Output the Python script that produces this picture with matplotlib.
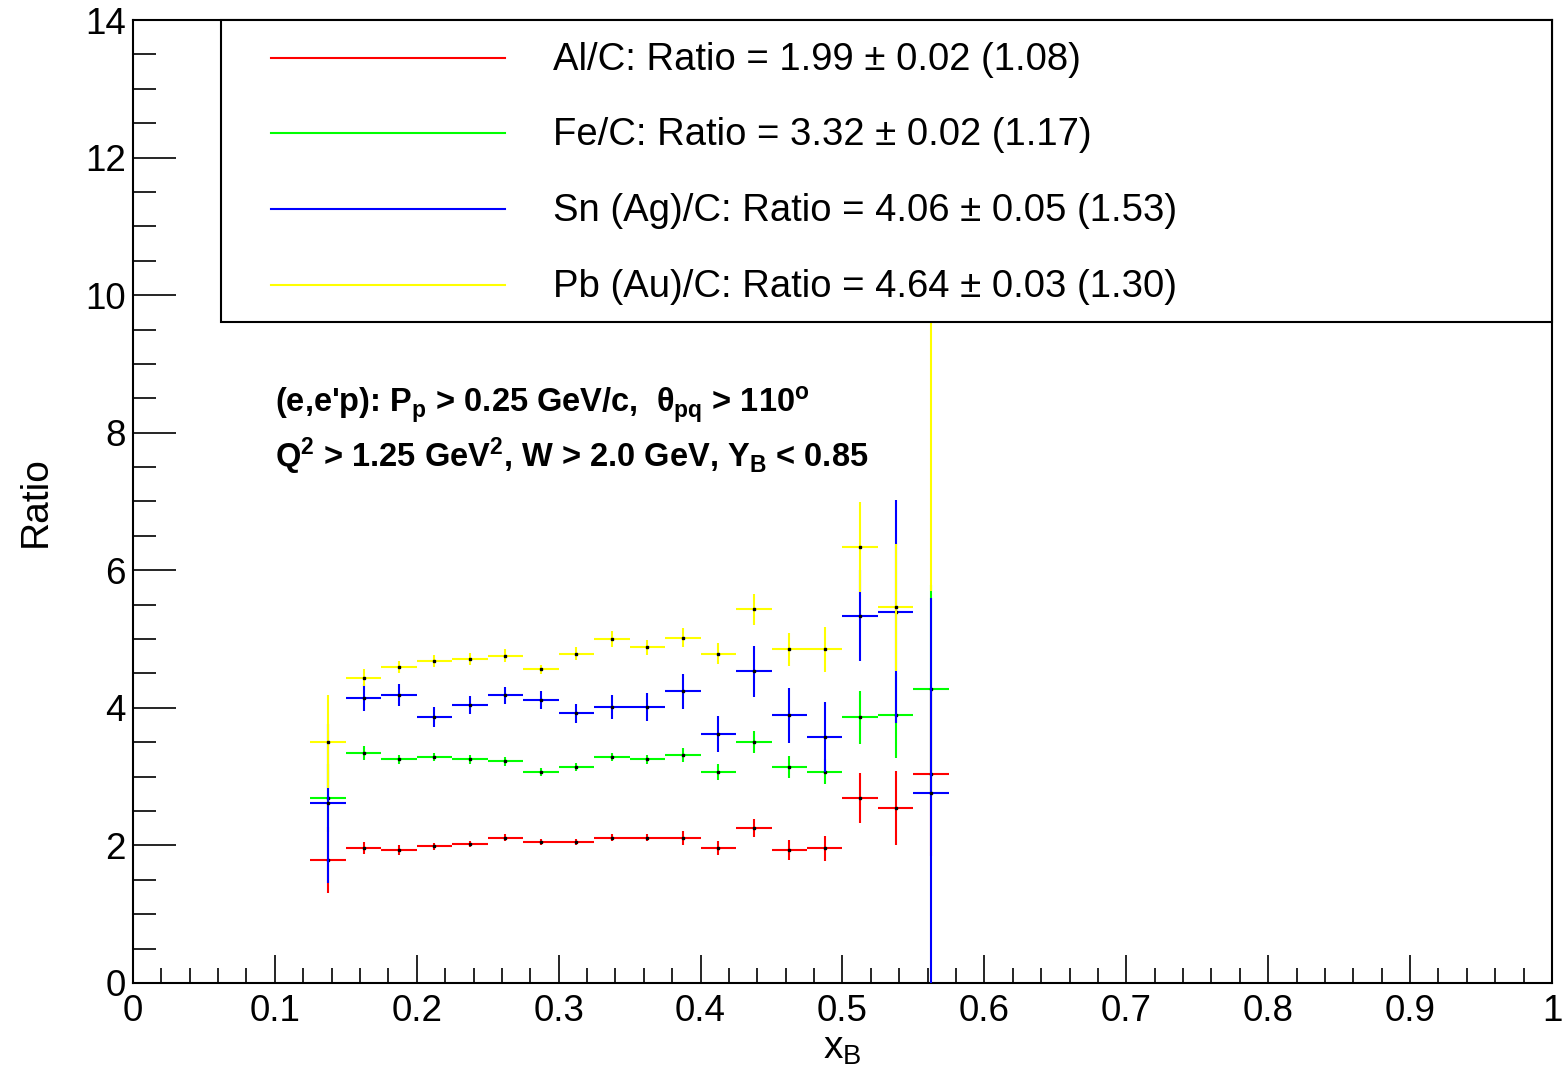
import numpy as np
import matplotlib.pyplot as plt
from matplotlib.patches import Rectangle
from matplotlib.ticker import MultipleLocator, FuncFormatter

plt.rcParams['font.family'] = ['Liberation Sans', 'DejaVu Sans']
plt.rcParams['mathtext.fontset'] = 'custom'
plt.rcParams['mathtext.rm'] = 'Liberation Sans'
plt.rcParams['mathtext.it'] = 'Liberation Sans'
plt.rcParams['mathtext.bf'] = 'Liberation Sans:bold'

# bin centres in x_B (bin width 0.025)
xb = [0.1375, 0.1625, 0.1875, 0.2125, 0.2375, 0.2625, 0.2875, 0.3125, 0.3375,
      0.3625, 0.3875, 0.4125, 0.4375, 0.4625, 0.4875, 0.5125, 0.5375, 0.5625]
half_width = 0.0125

al_c = [1.79, 1.96, 1.93, 1.99, 2.02, 2.11, 2.05, 2.05, 2.11,
        2.11, 2.11, 1.96, 2.25, 1.93, 1.96, 2.69, 2.54, 3.04]
al_c_err = [0.48, 0.085, 0.07, 0.05, 0.05, 0.05, 0.05, 0.05, 0.05,
            0.05, 0.10, 0.10, 0.13, 0.145, 0.18, 0.36, 0.54, 1.2]

fe_c = [2.69, 3.34, 3.25, 3.28, 3.25, 3.22, 3.07, 3.14, 3.28,
        3.25, 3.31, 3.07, 3.51, 3.14, 3.07, 3.86, 3.89, 4.28]
fe_c_err = [0.5, 0.10, 0.06, 0.06, 0.06, 0.06, 0.06, 0.06, 0.06,
            0.06, 0.10, 0.12, 0.16, 0.16, 0.18, 0.39, 0.62, 1.5]

sn_c = [2.61, 4.15, 4.18, 3.86, 4.04, 4.18, 4.12, 3.92, 4.01,
        4.01, 4.24, 3.62, 4.53, 3.89, 3.57, 5.34, 5.40, 2.76]
sn_c_err = [1.16, 0.20, 0.16, 0.145, 0.13, 0.13, 0.13, 0.14, 0.17,
            0.20, 0.25, 0.26, 0.375, 0.40, 0.51, 0.66, 1.62, 2.84]

pb_c = [3.51, 4.44, 4.59, 4.68, 4.71, 4.76, 4.56, 4.79, 5.00,
        4.88, 5.02, 4.79, 5.43, 4.85, 4.85, 6.34, 5.46, 12.0]
pb_c_err = [0.68, 0.12, 0.09, 0.085, 0.09, 0.09, 0.07, 0.10, 0.11,
            0.11, 0.14, 0.155, 0.23, 0.245, 0.33, 0.65, 0.92, 6.3]

labels = ['Al/C: Ratio = 1.99 \u00b1 0.02 (1.08)',
          'Fe/C: Ratio = 3.32 \u00b1 0.02 (1.17)',
          'Sn (Ag)/C: Ratio = 4.06 \u00b1 0.05 (1.53)',
          'Pb (Au)/C: Ratio = 4.64 \u00b1 0.03 (1.30)']
colors = ['#ff0000', '#00ff00', '#0000ff', '#ffff00']
series = [(al_c, al_c_err), (fe_c, fe_c_err), (sn_c, sn_c_err), (pb_c, pb_c_err)]

fig = plt.figure(figsize=(15.62, 10.66), dpi=100)
ax = fig.add_axes([0.0851, 0.0779, 0.9085, 0.9033])

for i, ((vals, errs), c) in enumerate(zip(series, colors)):
    ax.errorbar(xb, vals, xerr=half_width, yerr=errs, fmt='none',
                ecolor=c, elinewidth=1.5, capsize=0, zorder=2 + i)
    ax.plot(xb, vals, 's', ms=2.0, color='black', mec='black', zorder=2.5 + i)

ax.set_xlim(0, 1)
ax.set_ylim(0, 14)
ax.xaxis.set_major_locator(MultipleLocator(0.1))
ax.xaxis.set_minor_locator(MultipleLocator(0.02))
ax.yaxis.set_major_locator(MultipleLocator(2))
ax.yaxis.set_minor_locator(MultipleLocator(0.5))
ax.xaxis.set_major_formatter(FuncFormatter(lambda v, p: '%g' % round(v, 2)))
ax.yaxis.set_major_formatter(FuncFormatter(lambda v, p: '%g' % v))
ax.tick_params(axis='both', which='both', direction='in', top=False, right=False,
               width=1.2, labelsize=26.5)
ax.tick_params(axis='x', which='major', length=20, pad=8)
ax.tick_params(axis='x', which='minor', length=11)
ax.tick_params(axis='y', which='major', length=31, pad=5)
ax.tick_params(axis='y', which='minor', length=16.5)
for s in ax.spines.values():
    s.set_linewidth(1.5)

ax.set_xlabel(r'x$_\mathrm{B}$', fontsize=28, labelpad=0)
ax.xaxis.set_label_coords(0.5, -0.05, transform=ax.transAxes)
ax.xaxis.label.set_va('top')
ax.set_ylabel('Ratio', fontsize=28)
ax.yaxis.set_label_coords(-0.056, 0.5)

# legend box
ax.add_patch(Rectangle((0.062, 0.6864), 0.938, 0.3136, transform=ax.transAxes,
                       facecolor='white', edgecolor='black', lw=1.5, zorder=10,
                       clip_on=False))
rows = [0.9585, 0.8806, 0.8017, 0.7227]
for y, c, lab in zip(rows, colors, labels):
    ax.plot([0.0973, 0.262], [y + 0.002, y + 0.002], color=c, lw=1.5,
            transform=ax.transAxes, zorder=11)
    ax.text(0.296, y, lab, transform=ax.transAxes, fontsize=27.5, va='center',
            ha='left', zorder=11)

ax.text(0.1, 8.4, r"(e,e'p): P$_\mathbf{p}$ > 0.25 GeV/c,  $\mathbf{\theta_{pq}}$ > 110$^\mathbf{o}$",
        fontsize=23.5, fontweight='bold', va='center', ha='left')
ax.text(0.1, 7.66, r"Q$^\mathbf{2}$ > 1.25 GeV$^\mathbf{2}$, W > 2.0 GeV, Y$_\mathbf{B}$ < 0.85",
        fontsize=23.5, fontweight='bold', va='center', ha='left')

fig.savefig('out.png', dpi=100)
